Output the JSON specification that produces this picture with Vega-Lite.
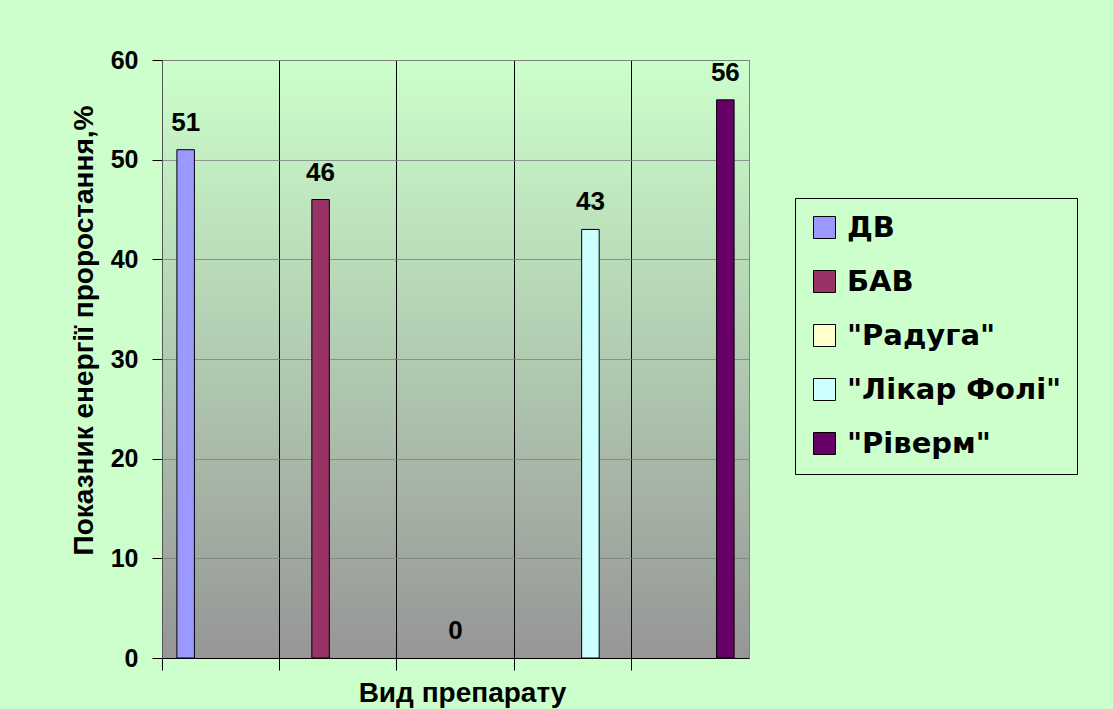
{
  "$schema": "https://vega.github.io/schema/vega-lite/v6.json",
  "width": 587,
  "height": 598,
  "autosize": "none",
  "padding": {"left": 162, "top": 60, "right": 364, "bottom": 51},
  "background": "#CCFFCC",
  "config": {
    "font": "Liberation Sans",
    "view": {
      "stroke": "#808080",
      "strokeWidth": 1,
      "fill": {
        "gradient": "linear",
        "x1": 0, "y1": 0, "x2": 0, "y2": 1,
        "stops": [
          {"offset": 0, "color": "#CCFFCC"},
          {"offset": 1, "color": "#969696"}
        ]
      }
    }
  },
  "data": {
    "values": [
      {"name": "ДВ", "value": 51},
      {"name": "БАВ", "value": 46},
      {"name": "\"Радуга\"", "value": 0},
      {"name": "\"Лікар Фолі\"", "value": 43},
      {"name": "\"Ріверм\"", "value": 56}
    ]
  },
  "encoding": {
    "x": {
      "field": "name",
      "type": "nominal",
      "sort": null,
      "scale": {"paddingInner": 0, "paddingOuter": 0},
      "axis": {
        "labels": false,
        "bandPosition": 0,
        "grid": true,
        "gridColor": "#000000",
        "gridOpacity": 1,
        "gridWidth": 1,
        "domainColor": "#000000",
        "tickColor": "#000000",
        "tickSize": 12,
        "title": "Вид препарату",
        "titleFont": "Liberation Sans",
        "titleFontSize": 28,
        "titleFontWeight": "bold",
        "titleColor": "#000000",
        "titleX": 300,
        "titleY": 43,
        "titleBaseline": "alphabetic",
        "titleAlign": "center"
      }
    },
    "xOffset": {
      "field": "name",
      "type": "nominal",
      "sort": null,
      "scale": {"paddingInner": 0, "paddingOuter": 0.85}
    },
    "y": {
      "field": "value",
      "type": "quantitative",
      "scale": {"domain": [0, 60], "nice": false},
      "axis": {
        "values": [0, 10, 20, 30, 40, 50, 60],
        "grid": true,
        "gridColor": "#808080",
        "gridOpacity": 0.8,
        "domainColor": "#555555",
        "tickColor": "#000000",
        "tickSize": 10,
        "labelFontSize": 25,
        "labelFontWeight": "bold",
        "labelColor": "#000000",
        "labelPadding": 14,
        "title": "Показник енергії проростання,%",
        "titleFontSize": 28,
        "titleFontWeight": "bold",
        "titleColor": "#000000",
        "titleX": -70,
        "titleY": 270,
        "titleAngle": 270,
        "titleAlign": "center",
        "titleBaseline": "alphabetic"
      }
    }
  },
  "layer": [
    {
      "mark": {"type": "bar", "stroke": "#000000"},
      "encoding": {
        "strokeWidth": {"condition": {"test": "datum.value > 0", "value": 1}, "value": 0},
        "color": {
          "field": "name",
          "type": "nominal",
          "sort": null,
          "scale": {
            "domain": ["ДВ", "БАВ", "\"Радуга\"", "\"Лікар Фолі\"", "\"Ріверм\""],
            "range": ["#9999FF", "#993366", "#FFFFCC", "#CCFFFF", "#660066"]
          },
          "legend": {
            "title": null,
            "orient": "none",
            "legendX": 633,
            "legendY": 138,
            "padding": 15,
            "fillColor": "#CCFFCC",
            "strokeColor": "#000000",
            "symbolType": "square",
            "symbolSize": 484,
            "symbolStrokeColor": "#000000",
            "symbolStrokeWidth": 1,
            "symbolOpacity": 1,
            "labelFont": "DejaVu Sans",
            "labelFontSize": 29,
            "labelFontWeight": "bold",
            "labelColor": "#000000",
            "labelOffset": 8,
            "labelLimit": 400,
            "rowPadding": 24
          }
        }
      }
    },
    {
      "mark": {"type": "text", "dy": -19, "fontSize": 26, "fontWeight": "bold", "color": "#000000", "baseline": "alphabetic"},
      "encoding": {
        "text": {"field": "value", "type": "quantitative"}
      }
    }
  ]
}
